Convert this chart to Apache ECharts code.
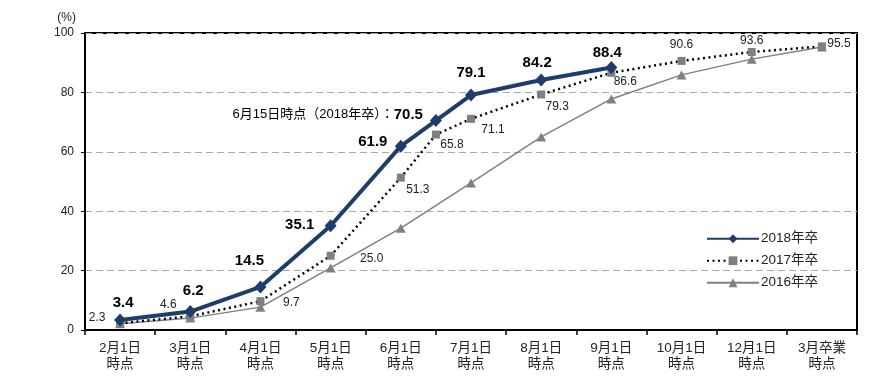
<!DOCTYPE html>
<html><head><meta charset="utf-8">
<script src="https://cdn.jsdelivr.net/npm/echarts@6/dist/echarts.min.js"></script>
<style>html,body{margin:0;padding:0;background:#fff}#c{width:895px;height:386px}</style>
</head><body><div id="c"></div>
<script>
// ---- data ----
const categories = ['2月1日\n時点','3月1日\n時点','4月1日\n時点','5月1日\n時点','6月1日\n時点','7月1日\n時点','8月1日\n時点','9月1日\n時点','10月1日\n時点','12月1日\n時点','3月卒業\n時点'];
const yTicks = [0,20,40,60,80,100];
// category index positions (4.5 = 6月15日時点)
const x2018 = [0,1,2,3,4,4.5,5,6,7];
const v2018 = [3.4,6.2,14.5,35.1,61.9,70.5,79.1,84.2,88.4];
const x2017 = [0,1,2,3,4,4.5,5,6,7,8,9,10];
const v2017 = [2.3,4.6,9.7,25.0,51.3,65.8,71.1,79.3,86.6,90.6,93.6,95.5];
const x2016 = [0,1,2,3,4,5,6,7,8,9,10];
const v2016 = [2.1,4.0,7.7,20.9,34.3,49.5,65.0,77.8,85.9,91.2,95.3];
const seriesNames = ['2018年卒','2017年卒','2016年卒'];
const note2018 = '6月15日時点（2018年卒）：';

// ---- label layout (offsets of label centre from point) ----
const off2018 = [[3,-17],[3,-21],[-11,-26],[-31,-1],[-28,-4],[-13,-6],[0,-22],[-4,-17],[-4,-15]];
const off2017 = [[-23,-5],[-22,-12],[31,1],[41,3],[17,12],[16,10],[22,11],[16,12],[14,9],[0,-16],[0,-11],[17,-3]];

const NUM = '"Liberation Sans", Arial, "Noto Sans CJK JP", sans-serif';

const d2018 = x2018.map((x,i)=>{
  const item = {value:[x, v2018[i]], label:{offset: off2018[i]}};
  if (x === 4.5) {
    item.label = {offset: off2018[i], align:'right',
      formatter: '{a|' + note2018 + '}{b|' + v2018[i].toFixed(1) + '}',
      rich:{a:{fontSize:13, fontFamily: NUM, color:'#000', fontWeight:'normal'},
            b:{fontSize:15, fontWeight:'bold', fontFamily: NUM, color:'#000'}}};
  }
  return item;
});
const d2017 = x2017.map((x,i)=>({value:[x, v2017[i]], label:{offset: off2017[i]}}));
const d2016 = x2016.map((x,i)=>[x, v2016[i]]);

const chart = echarts.init(document.getElementById('c'), null, {renderer:'canvas'});
chart.setOption({
  animation:false,
  backgroundColor:'#fff',
  grid:{left:85, right:38, top:33, bottom:56, show:true, borderColor:'#000', borderWidth:2, containLabel:false},
  legend:{
    orient:'vertical', left:701, top:227, itemWidth:52, itemHeight:11, itemGap:8.5,
    data: seriesNames,
    textStyle:{fontFamily: NUM, fontSize:13.5, color:'#222', padding:[0,0,0,-3]}
  },
  xAxis:[
    {type:'category', data:categories, boundaryGap:true,
     axisLine:{lineStyle:{color:'#000', width:2}},
     axisTick:{show:true, length:5, lineStyle:{color:'#000', width:1.5}},
     axisLabel:{color:'#222', fontSize:13.5, lineHeight:16, margin:10, fontFamily: NUM, interval:0},
     splitLine:{show:false}},
    {type:'value', min:-0.5, max:10.5, show:false, splitLine:{show:false}}
  ],
  yAxis:{type:'value', min:0, max:100, interval:20,
    name:'(%)', nameLocation:'end', nameGap:9,
    nameTextStyle:{fontFamily: NUM, fontSize:12, color:'#222', align:'right', padding:[0,9,0,0]},
    axisLine:{show:true, onZero:false, lineStyle:{color:'#000', width:2}},
    axisTick:{show:true, length:4, lineStyle:{color:'#000'}},
    axisLabel:{color:'#222', fontSize:12, fontFamily: NUM, margin:11,
      formatter: v => yTicks.includes(v) ? String(v) : ''},
    splitLine:{show:true, lineStyle:{color:'#aaa', type:[7,4], width:1.2}}
  },
  series:[
    {name:seriesNames[2], type:'line', xAxisIndex:1, data:d2016, z:2,
     symbol:'triangle', symbolSize:[10,9],
     lineStyle:{color:'#808080', width:1.5}, itemStyle:{color:'#808080'},
     label:{show:false}},
    {name:seriesNames[1], type:'line', xAxisIndex:1, data:d2017, z:3,
     symbol:'rect', symbolSize:8,
     lineStyle:{color:'#000', width:2.5, type:[2,3.5]}, itemStyle:{color:'#7f7f7f'},
     label:{show:true, position:'inside', fontSize:12, color:'#222', fontFamily: NUM,
       formatter: p => p.value[1].toFixed(1)}},
    {name:seriesNames[0], type:'line', xAxisIndex:1, data:d2018, z:4,
     symbol:'diamond', symbolSize:[12,13],
     lineStyle:{color:'#1F3D6C', width:4}, itemStyle:{color:'#1F3D6C'},
     label:{show:true, position:'inside', fontSize:15, fontWeight:'bold', color:'#000', fontFamily: NUM,
       formatter: p => p.value[1].toFixed(1)}}
  ]
});
</script></body></html>
